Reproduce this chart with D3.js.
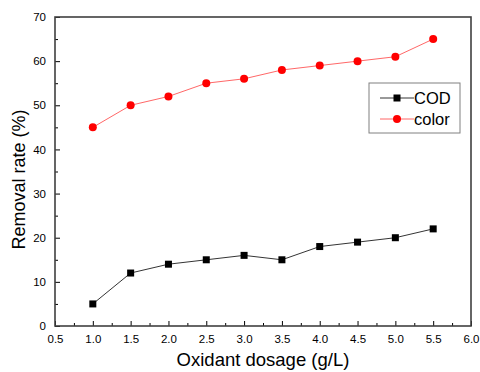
<!DOCTYPE html>
<html>
<head>
<meta charset="utf-8">
<script src="https://cdn.jsdelivr.net/npm/d3@7"></script>
<style>
  body { margin: 0; background: #fff; }
  svg { font-family: "Liberation Sans", Arial, sans-serif; }
</style>
</head>
<body>
<svg id="chart" width="480" height="372"></svg>
<script>
const dosage = [1.0, 1.5, 2.0, 2.5, 3.0, 3.5, 4.0, 4.5, 5.0, 5.5];
const cod = [5, 12, 14, 15, 16, 15, 18, 19, 20, 22];
const color = [45, 50, 52, 55, 56, 58, 59, 60, 61, 65];
const xTicks = [0.5, 1.0, 1.5, 2.0, 2.5, 3.0, 3.5, 4.0, 4.5, 5.0, 5.5, 6.0];
const yTicks = [0, 10, 20, 30, 40, 50, 60, 70];

const margens = { left: 55, right: 9, top: 17, bottom: 46 };
const svg = d3.select("#chart");
const width = 480 - margens.left - margens.right;
const height = 372 - margens.top - margens.bottom;

const x = d3.scaleLinear().domain([0.5, 6.0]).range([0, width]);
const y = d3.scaleLinear().domain([0, 70]).range([height, 0]);

const g = svg.append("g")
  .attr("transform", `translate(${margens.left},${margens.top})`);

// eixo X (ticks para dentro)
g.append("g")
  .attr("transform", `translate(0,${height})`)
  .call(d3.axisBottom(x).tickValues(xTicks).tickSize(-5).tickPadding(9).tickFormat(d3.format(".1f")));
g.append("g")
  .attr("transform", `translate(0,${height})`)
  .call(d3.axisBottom(x).tickValues(d3.range(0.75, 6, 0.5)).tickSize(-3).tickFormat(""))
  .call(s => s.select(".domain").remove());

// eixo Y
g.append("g")
  .call(d3.axisLeft(y).tickValues(yTicks).tickSize(-5).tickPadding(9));
g.append("g")
  .call(d3.axisLeft(y).tickValues(d3.range(5, 70, 10)).tickSize(-3).tickFormat(""))
  .call(s => s.select(".domain").remove());

g.selectAll(".tick text").attr("font-size", 11.5).attr("fill", "#000").attr("font-family", "Liberation Sans, Arial, sans-serif");
g.selectAll(".tick line").attr("stroke", "#000");
g.selectAll(".domain").remove();

// moldura
g.append("rect")
  .attr("x", 0).attr("y", 0)
  .attr("width", width).attr("height", height)
  .attr("fill", "none")
  .attr("stroke", "#404040")
  .attr("stroke-width", 1.6);

const line = d3.line().x((d, i) => x(dosage[i])).y(d => y(d));

// COD
g.append("path").datum(cod)
  .attr("fill", "none").attr("stroke", "#000").attr("stroke-width", 0.8)
  .attr("d", line);
g.selectAll(".sq").data(cod).enter().append("rect")
  .attr("x", (d, i) => x(dosage[i]) - 3.5)
  .attr("y", d => y(d) - 3.5)
  .attr("width", 7).attr("height", 7)
  .attr("fill", "#000");

// color
g.append("path").datum(color)
  .attr("fill", "none").attr("stroke", "#ff4040").attr("stroke-width", 0.8)
  .attr("d", line);
g.selectAll(".dot").data(color).enter().append("circle")
  .attr("cx", (d, i) => x(dosage[i]))
  .attr("cy", d => y(d))
  .attr("r", 4)
  .attr("fill", "#ff0000");

// legenda
const series = [
  { name: "COD", stroke: "#000", fill: "#000", shape: "square" },
  { name: "color", stroke: "#ff4040", fill: "#ff0000", shape: "circle" }
];
const legend = svg.append("g").attr("transform", "translate(369,83)");
legend.append("rect")
  .attr("width", 91).attr("height", 50)
  .attr("fill", "#fff").attr("stroke", "#808080").attr("stroke-width", 1);
series.forEach((s, i) => {
  const cy = 15 + i * 21;
  legend.append("line")
    .attr("x1", 11).attr("x2", 45).attr("y1", cy).attr("y2", cy)
    .attr("stroke", s.stroke).attr("stroke-width", 0.8);
  if (s.shape === "square") {
    legend.append("rect").attr("x", 28 - 3.5).attr("y", cy - 3.5)
      .attr("width", 7).attr("height", 7).attr("fill", s.fill);
  } else {
    legend.append("circle").attr("cx", 28).attr("cy", cy).attr("r", 4).attr("fill", s.fill);
  }
  legend.append("text")
    .attr("x", 45).attr("y", cy + 6)
    .attr("font-size", 16.5)
    .text(s.name);
});

// títulos dos eixos
svg.append("text")
  .attr("x", 263)
  .attr("y", 366)
  .attr("text-anchor", "middle")
  .attr("font-size", 18.5)
  .text("Oxidant dosage (g/L)");

svg.append("text")
  .attr("transform", `translate(25,${margens.top + height / 2 + 8}) rotate(-90)`)
  .attr("text-anchor", "middle")
  .attr("font-size", 18)
  .text("Removal rate (%)");
</script>
</body>
</html>
